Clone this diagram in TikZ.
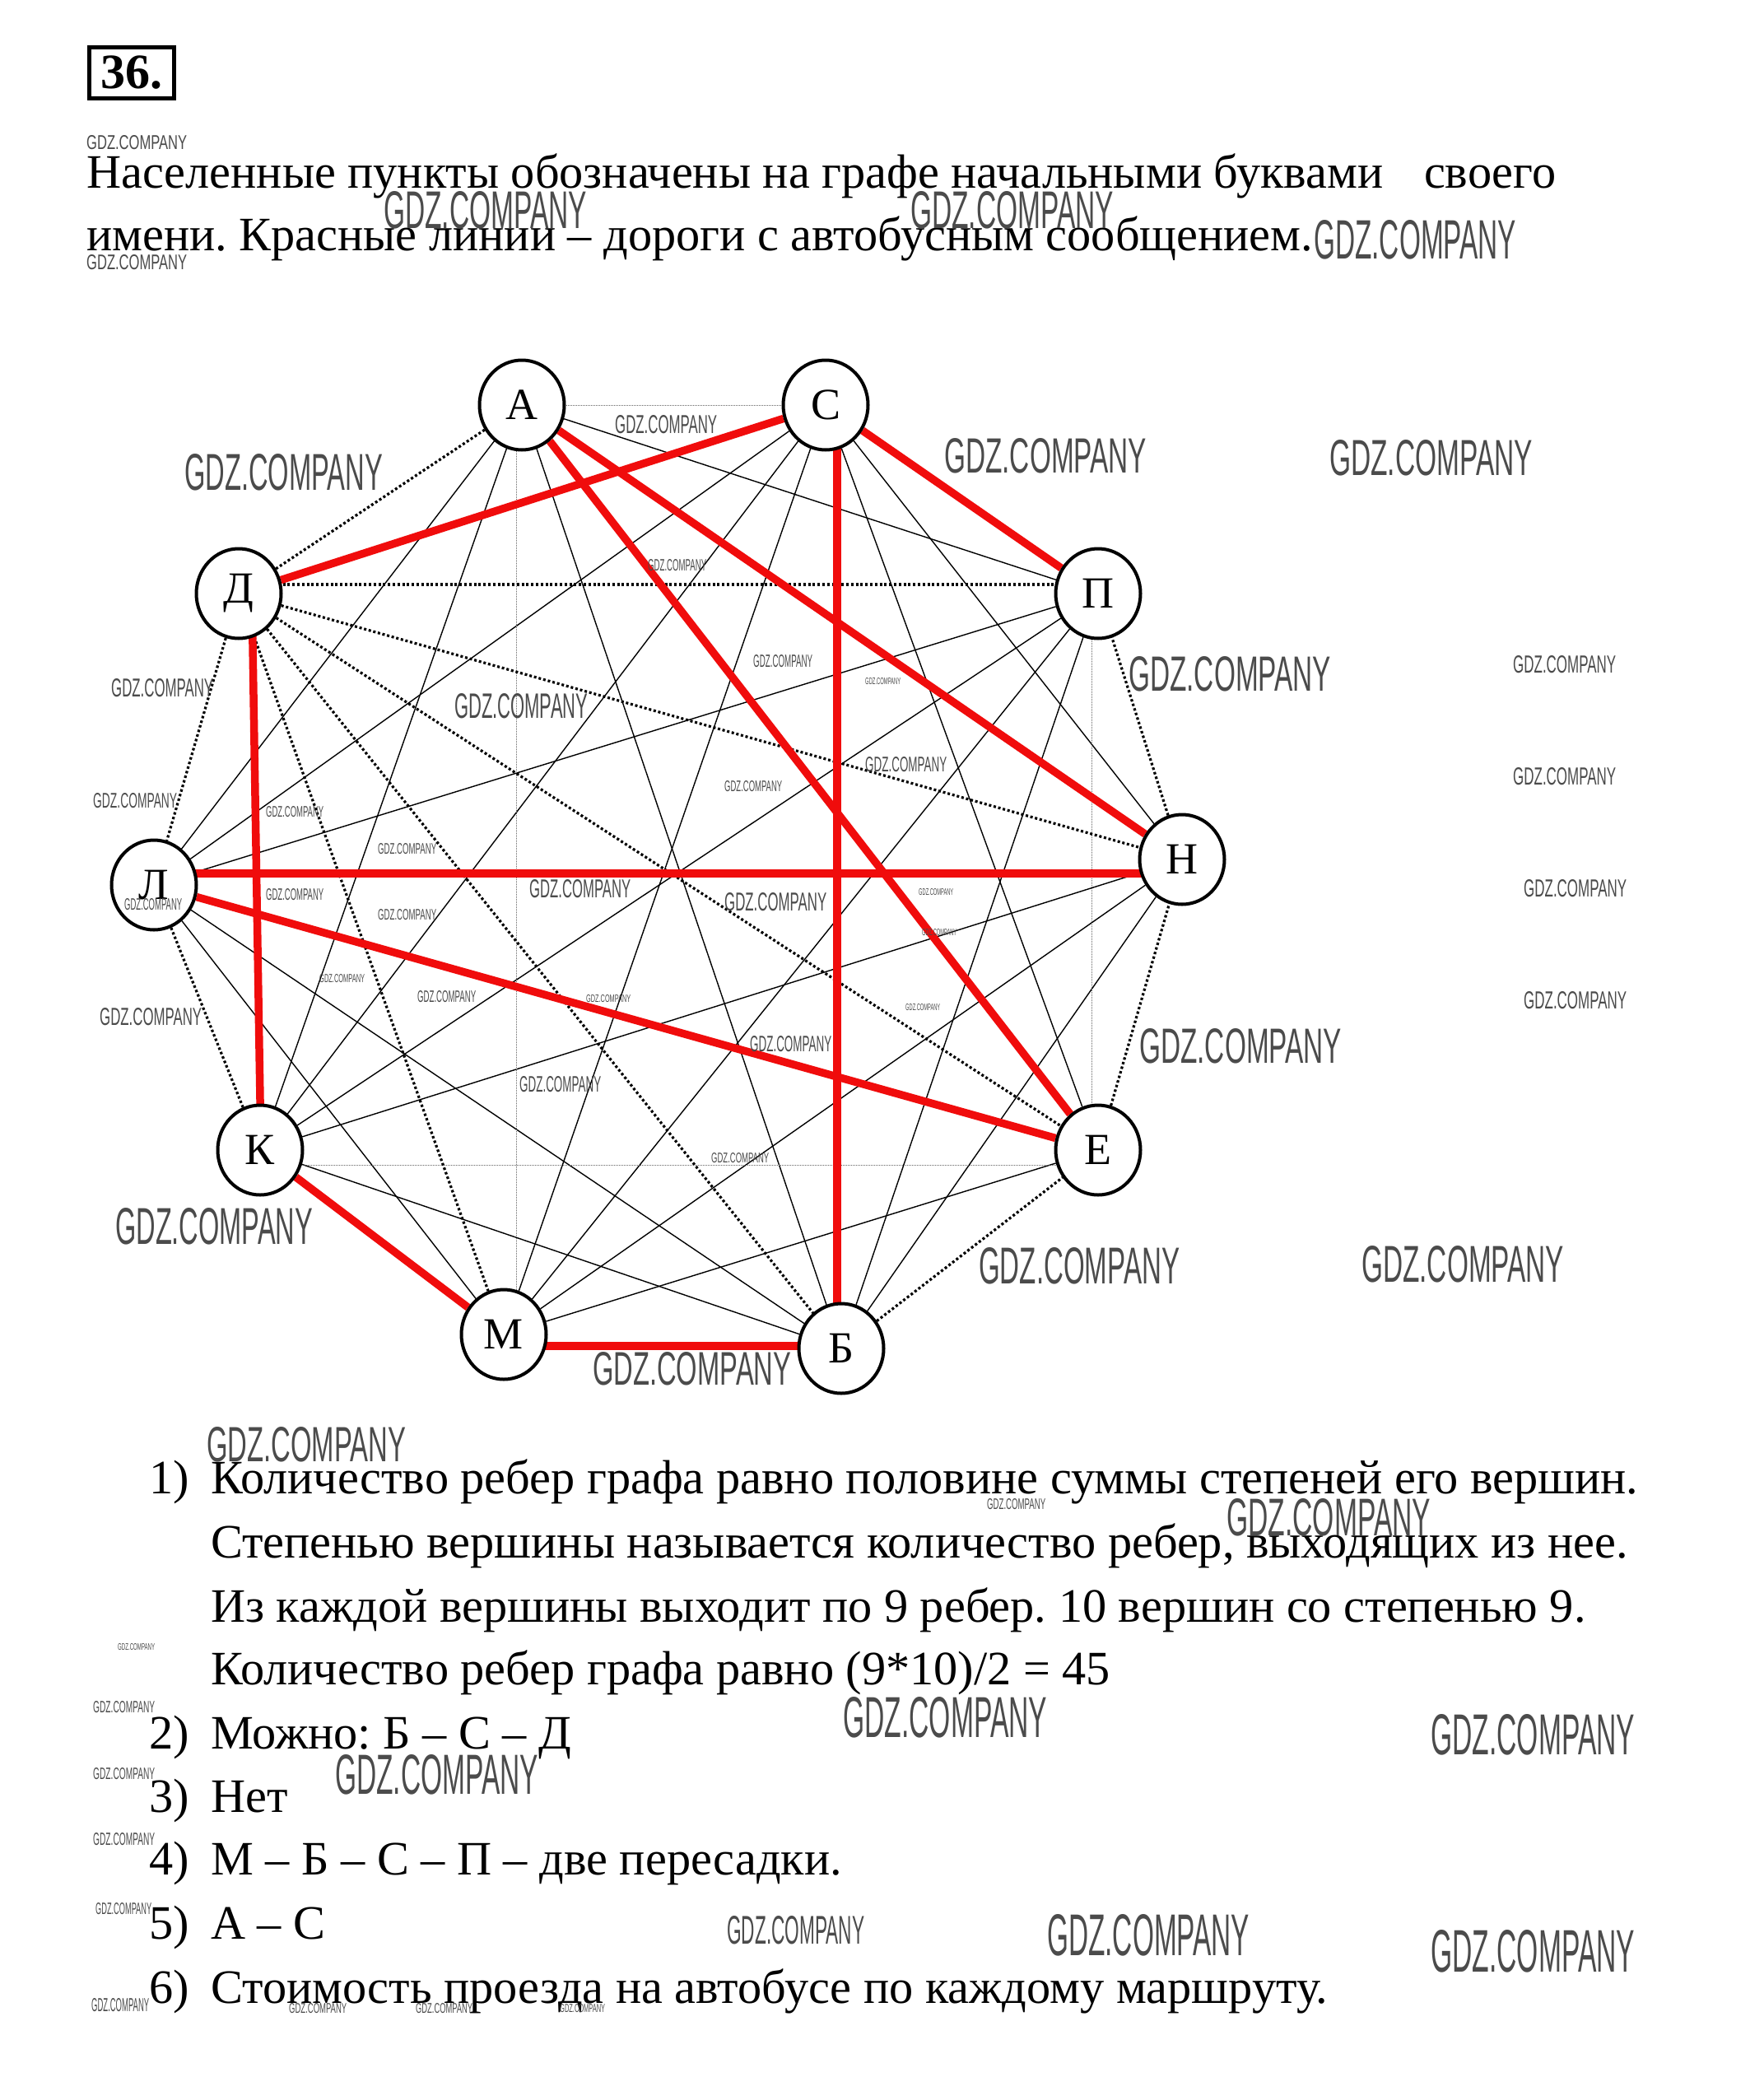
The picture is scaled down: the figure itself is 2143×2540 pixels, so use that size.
\documentclass[tikz,border=0pt]{standalone}
\usepackage{graphicx}
\usepackage{fontspec}
\setmainfont{Liberation Serif}
\newfontfamily\wmfont{Liberation Sans}
\usetikzlibrary{shapes.geometric}
\definecolor{busred}{RGB}{240,12,12}
\definecolor{wmgray}{RGB}{75,75,75}
\pgfdeclarelayer{bg}
\pgfsetlayers{bg,main}
\frenchspacing
\newcounter{wmc}
\newcommand{\wm}[4]{\stepcounter{wmc}%
  \node[anchor=south west, inner sep=0pt] (wm\thewmc) at (#1,#4)
  {\resizebox{\dimexpr #3pt-#1pt\relax}{\dimexpr #4pt-#2pt\relax}{\wmfont\color{wmgray}GDZ.COMPANY}};}
\tikzset{
  town/.style={ellipse, draw, line width=4pt, fill=white, minimum width=103pt,
    minimum height=109pt, inner sep=0pt, font=\fontsize{54}{54}\selectfont},
  redroad/.style={draw=busred, line width=9.5pt},
  dotroad/.style={draw=black, line width=3.2pt, dash pattern=on 3pt off 2.8pt},
  thinroad/.style={draw=black, line width=1.4pt},
  faintroad/.style={draw=black!60, line width=1pt, dash pattern=on 1pt off 1pt},
  txt/.style={anchor=base west, inner sep=0pt, font=\fontsize{58.3}{60}\selectfont},
}
\begin{document}
\begin{tikzpicture}[x=1pt,y=-1pt]
\useasboundingbox (0,0) rectangle (2143,2540);

% title box
\node[draw, line width=5pt, minimum width=103pt, minimum height=62pt, inner sep=0pt,
  font=\bfseries\fontsize{60}{60}\selectfont] (num) at (160,88.5) {36.};

% header
\node[txt] (h1) at (105,228) {Населенные пункты обозначены на графе начальными буквами\hspace{0.6em} своего};
\node[txt] (h2) at (105,304) {имени. Красные линии – дороги с автобусным сообщением.};

% towns
\node[town] (A) at (634,492) {А};
\node[town] (S) at (1003,492) {С};
\node[town] (P) at (1334,721) {П};
\node[town] (N) at (1436,1044) {Н};
\node[town] (E) at (1334,1397) {Е};
\node[town] (B) at (1022,1638) {Б};
\node[town] (M) at (612,1621) {М};
\node[town] (K) at (316,1397) {К};
\node[town] (L) at (187,1075) {Л};
\node[town] (D) at (290,721) {Д};

\begin{pgfonlayer}{bg}
\fill[white] (0,0) rectangle (2143,2540);
% thin solid roads
\foreach \u/\v in {A/P,A/B,A/K,A/L,S/N,S/E,S/M,S/K,S/L,P/B,P/M,P/K,P/L,N/B,N/M,N/K,E/M,B/K,B/L,M/L}
  \draw[thinroad] (\u) -- (\v);
% faint dotted roads
\draw[faintroad] (A.center) -- (S.center);
\draw[faintroad] ([xshift=-6.5pt]A.center) -- ([xshift=15.5pt]M.center);
\draw[faintroad] ([xshift=-8pt]P.center) -- ([xshift=-8pt]E.center);
\draw[faintroad] ([yshift=-18pt]K.center) -- ([yshift=-18pt]E.center);
% bold dotted roads
\foreach \u/\v in {A/D,D/L,L/K,D/N,D/E,D/B,D/M,B/E,E/N,N/P}
  \draw[dotroad] (\u) -- (\v);
\draw[dotroad] ([yshift=11pt]D.east) -- ([yshift=11pt]P.west);
% bus roads
\foreach \u/\v in {A/N,A/E,S/D,S/P,K/M,L/E}
  \draw[redroad] (\u) -- (\v);
\draw[redroad] ([xshift=14pt]S.center) -- ([xshift=-5pt]B.center);
\draw[redroad] ([yshift=14pt]L.center) -- ([yshift=-17pt]N.center);
\draw[redroad] ([xshift=16pt]D.center) -- ([xshift=1pt]K.center);
\draw[redroad] ([yshift=-14pt]M.center) -- ([yshift=3pt]B.center);
\end{pgfonlayer}

% answers
\node[txt] (n1) at (181,1814) {1)};
\node[txt] (t1a) at (256,1814) {Количество ребер графа равно половине суммы степеней его вершин.};
\node[txt] (t1b) at (256,1892) {Степенью вершины называется количество ребер, выходящих из нее.};
\node[txt] (t1c) at (256,1970) {Из каждой вершины выходит по 9 ребер. 10 вершин со степенью 9.};
\node[txt] (t1d) at (256,2046) {Количество ребер графа равно (9*10)/2 = 45};
\node[txt] (n2) at (181,2124) {2)};
\node[txt] (t2) at (256,2124) {Можно: Б – С – Д};
\node[txt] (n3) at (181,2201) {3)};
\node[txt] (t3) at (256,2201) {Нет};
\node[txt] (n4) at (181,2277) {4)};
\node[txt] (t4) at (256,2277) {М – Б – С – П – две пересадки.};
\node[txt] (n5) at (181,2355) {5)};
\node[txt] (t5) at (256,2355) {А – С};
\node[txt] (n6) at (181,2433) {6)};
\node[txt] (t6) at (256,2433) {Стоимость проезда на автобусе по каждому маршруту.};

% watermarks
\wm{105}{165}{227}{182}
\wm{466}{233}{713}{278}
\wm{1106}{233}{1353}{278}
\wm{1596}{268}{1842}{315}
\wm{105}{310}{227}{328}
\wm{747}{505}{871}{527}
\wm{224}{552}{465}{596}
\wm{1147}{533}{1393}{575}
\wm{1615}{535}{1862}{578}
\wm{787}{680}{858}{694}
\wm{1371}{798}{1617}{840}
\wm{1838}{797}{1963}{818}
\wm{1838}{933}{1963}{954}
\wm{1851}{1069}{1976}{1090}
\wm{1851}{1205}{1976}{1226}
\wm{135}{825}{259}{847}
\wm{552}{843}{714}{873}
\wm{915}{796}{987}{811}
\wm{1051}{824}{1094}{832}
\wm{1051}{920}{1150}{938}
\wm{880}{949}{950}{962}
\wm{113}{964}{215}{982}
\wm{323}{980}{393}{993}
\wm{459}{1025}{530}{1038}
\wm{643}{1069}{766}{1091}
\wm{880}{1085}{1004}{1107}
\wm{323}{1080}{393}{1094}
\wm{459}{1105}{530}{1118}
\wm{151}{1092}{221}{1106}
\wm{1116}{1080}{1158}{1088}
\wm{1120}{1129}{1162}{1137}
\wm{388}{1184}{443}{1194}
\wm{507}{1204}{578}{1218}
\wm{712}{1209}{766}{1218}
\wm{1100}{1220}{1142}{1228}
\wm{121}{1225}{245}{1246}
\wm{911}{1259}{1010}{1278}
\wm{631}{1308}{730}{1327}
\wm{1384}{1250}{1630}{1292}
\wm{864}{1401}{934}{1413}
\wm{140}{1468}{380}{1512}
\wm{1189}{1516}{1433}{1560}
\wm{1654}{1514}{1900}{1558}
\wm{720}{1643}{961}{1683}
\wm{251}{1734}{493}{1776}
\wm{1199}{1821}{1270}{1834}
\wm{1490}{1821}{1738}{1866}
\wm{143}{1997}{188}{2005}
\wm{1024}{2062}{1272}{2111}
\wm{1738}{2083}{1986}{2132}
\wm{113}{2067}{188}{2081}
\wm{407}{2132}{654}{2180}
\wm{113}{2148}{188}{2162}
\wm{113}{2227}{188}{2242}
\wm{116}{2312}{184}{2326}
\wm{111}{2428}{181}{2444}
\wm{351}{2434}{421}{2446}
\wm{505}{2434}{574}{2446}
\wm{680}{2435}{735}{2445}
\wm{883}{2328}{1050}{2362}
\wm{1272}{2326}{1518}{2376}
\wm{1738}{2345}{1986}{2396}
\end{tikzpicture}
\end{document}
